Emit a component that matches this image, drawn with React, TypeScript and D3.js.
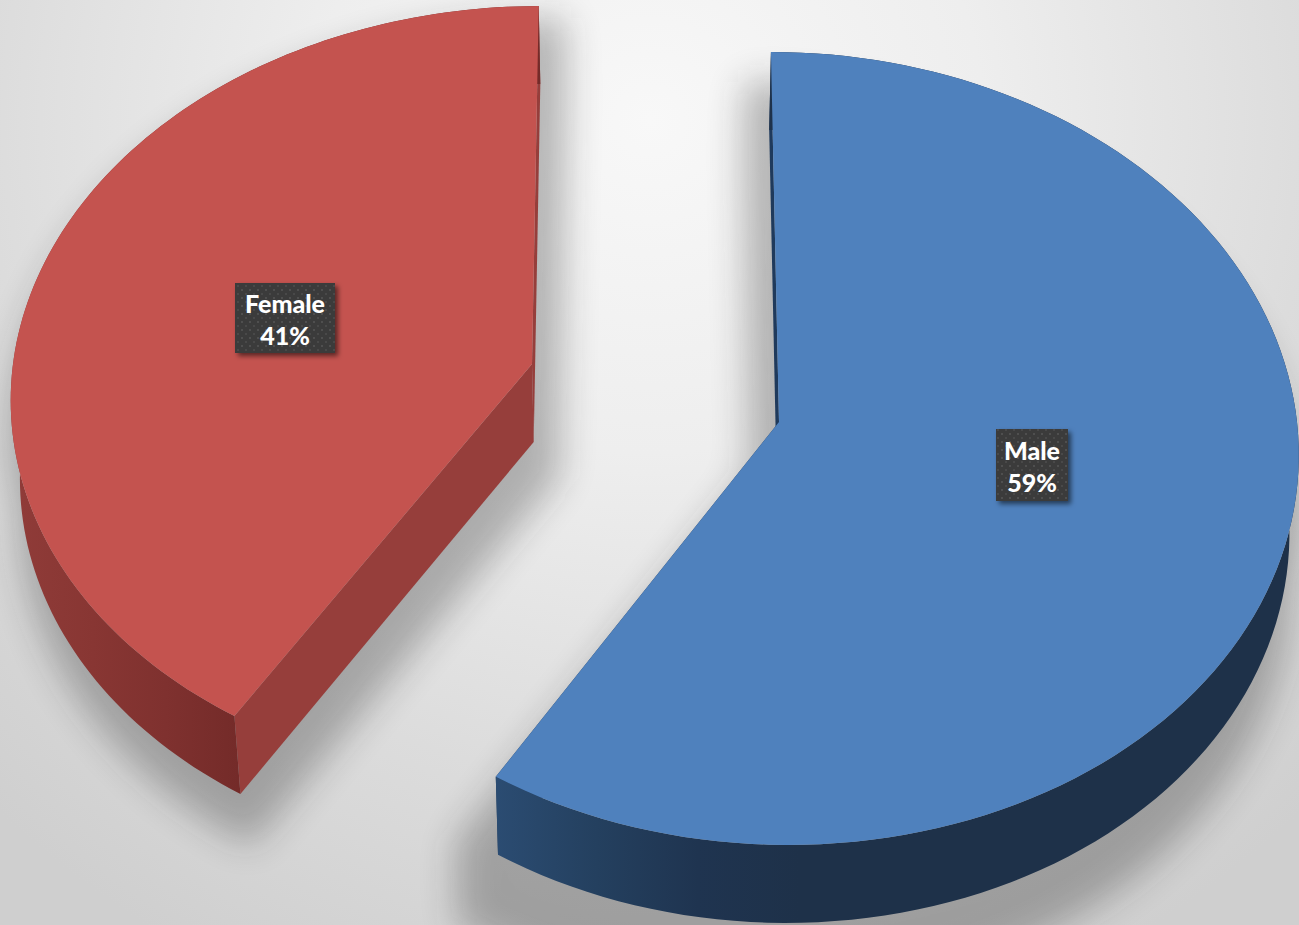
import React from "react";
import * as d3 from "d3";

const categories = ["Male", "Female"];
const shares = [59, 41];
const topColors = ["#4f81bd", "#c4534f"];
const cutWallColors = ["#1f3a5c", "#963e3b"];
const outerWallStops = [
  ["#2b4c72", "#24405f", "#1f3450", "#1e3149"],
  ["#8f3b38", "#883633", "#7f312f", "#742b29"],
];
const wallGradientRanges = [
  [495, 800],
  [20, 238],
];
const apexes = [
  [779, 422],
  [532, 364],
];
const radiusX = [518, 519];
const radiusY = [394.7, 385.4];
const perspective = [0.0667, 0.0766];
const angleTweakDeg = [
  [0, -0.4],
  [-1.0, -0.2],
];
const shadowScale = [1.05, 1.05];
const shadowPivot = [
  [1299, 450],
  [20, 400],
];
const shadowDrop = [50, 32];
const labelCentres = [
  [1032, 465],
  [285, 318],
];
const labelSizes = [
  [72, 72],
  [100, 70],
];

const W = 1299;
const H = 925;
const VANISH_X = 650;
const DEPTH = 78;
const DEPTH_CONVERGE = 0.0144;

const pieAngles = d3.pie<number>().sort(null)(shares);

type P = [number, number];

function project(i: number, theta: number, r = 1): P {
  const u = Math.sin(theta) * r;
  const v = Math.cos(theta) * r;
  const w = 1 + perspective[i] * v;
  return [
    VANISH_X + (apexes[i][0] - VANISH_X + radiusX[i] * u) / w,
    apexes[i][1] - (radiusY[i] * v) / w,
  ];
}
const drop = (p: P): P => [p[0] + (VANISH_X - p[0]) * DEPTH_CONVERGE, p[1] + DEPTH];
const poly = d3.line<P>().x((d) => d[0]).y((d) => d[1]);
const rad = (d: number) => (d * Math.PI) / 180;

function geometry(i: number) {
  const a = pieAngles[i];
  const s = a.startAngle + rad(angleTweakDeg[i][0]);
  const e = a.endAngle + rad(angleTweakDeg[i][1]);
  const arc: P[] = d3.range(0, 121).map((k) => project(i, s + ((e - s) * k) / 120));
  const apex = project(i, 0, 0);
  const top = poly([apex, ...arc])! + "Z";
  const outer = poly([...arc, ...arc.map(drop).reverse()])! + "Z";
  const first = arc[0];
  const last = arc[arc.length - 1];
  const cutA = poly([apex, first, drop(first), drop(apex)])! + "Z";
  const cutB = poly([apex, last, drop(last), drop(apex)])! + "Z";
  return { top, outer, cutA, cutB };
}

export default function App() {
  const geos = categories.map((_, i) => geometry(i));
  return (
    <svg
      width={W}
      height={H}
      viewBox={`0 0 ${W} ${H}`}
      style={{ position: "absolute", left: 0, top: 0, display: "block" }}
    >
      <defs>
        <radialGradient id="bg" gradientUnits="userSpaceOnUse" cx={650} cy={120} r={950}>
          <stop offset="0" stopColor="#f8f8f8" />
          <stop offset="0.35" stopColor="#eeeeee" />
          <stop offset="0.7" stopColor="#dcdcdc" />
          <stop offset="1" stopColor="#cfcfcf" />
        </radialGradient>
        <filter id="blur" x="-20%" y="-20%" width="140%" height="140%">
          <feGaussianBlur stdDeviation="18" />
        </filter>
        <filter id="lblShadow" x="-20%" y="-20%" width="150%" height="150%">
          <feDropShadow dx="3" dy="3" stdDeviation="2.5" floodColor="#000" floodOpacity="0.55" />
        </filter>
        <pattern id="dots" width="8" height="8" patternUnits="userSpaceOnUse">
          <rect width="8" height="8" fill="#3a3a3a" />
          <circle cx="2" cy="2" r="1.1" fill="#555" />
          <circle cx="6" cy="6" r="1.1" fill="#4c4c4c" />
        </pattern>
        {categories.map((_, i) => (
          <linearGradient
            key={i}
            id={`wall${i}`}
            gradientUnits="userSpaceOnUse"
            x1={wallGradientRanges[i][0]}
            x2={wallGradientRanges[i][1]}
            y1={0}
            y2={0}
          >
            {outerWallStops[i].map((c, k) => (
              <stop key={k} offset={k / (outerWallStops[i].length - 1)} stopColor={c} />
            ))}
          </linearGradient>
        ))}
      </defs>

      <rect width={W} height={H} fill="url(#bg)" />

      {categories.map((_, i) => {
        const [px, py] = shadowPivot[i];
        const sc = shadowScale[i];
        return (
          <g key={`s${i}`} filter="url(#blur)" opacity={0.3}>
            <g transform={`translate(${px} ${py + shadowDrop[i]}) scale(${sc}) translate(${-px} ${-py})`}>
              <path d={geos[i].outer} fill="#222" />
              <path d={geos[i].top} fill="#222" />
              <path d={geos[i].cutA} fill="#222" />
              <path d={geos[i].cutB} fill="#222" />
            </g>
          </g>
        );
      })}

      {categories.map((name, i) => {
        const g = geos[i];
        return (
          <g key={name}>
            <path d={g.cutA} fill={cutWallColors[i]} />
            <path d={g.cutB} fill={cutWallColors[i]} />
            <path d={g.outer} fill={`url(#wall${i})`} />
            <path d={g.top} fill={topColors[i]} />
          </g>
        );
      })}

      {categories.map((name, i) => {
        const [cx, cy] = labelCentres[i];
        const [w, h] = labelSizes[i];
        return (
          <g key={`l${name}`}>
            <rect x={cx - w / 2} y={cy - h / 2} width={w} height={h} fill="url(#dots)" filter="url(#lblShadow)" />
            <text
              x={cx}
              y={cy - 5}
              textAnchor="middle"
              fontFamily="Lato, sans-serif"
              fontWeight={900}
              fontSize={25}
              fill="#fff"
            >
              {name}
            </text>
            <text
              x={cx}
              y={cy + 27}
              textAnchor="middle"
              fontFamily="Lato, sans-serif"
              fontWeight={900}
              fontSize={25}
              fill="#fff"
            >
              {shares[i]}%
            </text>
          </g>
        );
      })}
    </svg>
  );
}
